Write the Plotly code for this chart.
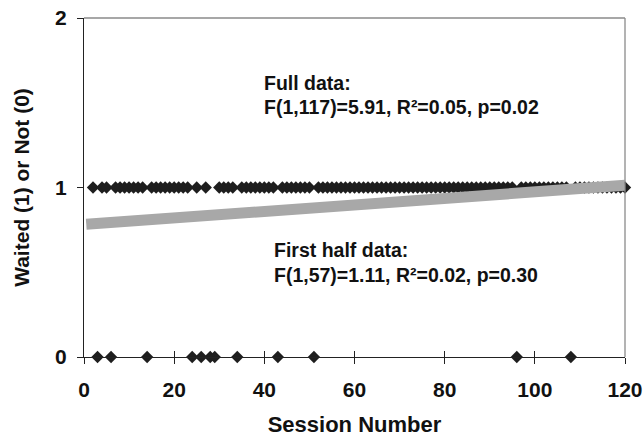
import numpy as np
import plotly.graph_objects as go

# Sessions where the participant did NOT wait (0)
zero_sessions = [3, 6, 14, 24, 26, 28, 29, 34, 43, 51, 96, 108]
all_sessions = list(range(2, 121))
waited = [0 if s in zero_sessions else 1 for s in all_sessions]

x_ticks = [0, 20, 40, 60, 80, 100, 120]
y_ticks = [0, 1, 2]

full_label = ["Full data:", "F(1,117)=5.91, R\u00b2=0.05, p=0.02"]
half_label = ["First half data:", "F(1,57)=1.11, R\u00b2=0.02, p=0.30"]

FONT = "Liberation Sans, Arial, sans-serif"

slope, intercept = np.polyfit(all_sessions, waited, 1)
fit_x = [0.5, 120]
fit_y = [intercept + slope * v for v in fit_x]

fig = go.Figure()
fig.add_trace(go.Scatter(
    x=all_sessions, y=waited, mode="markers",
    marker=dict(symbol="diamond", size=9.5, color="#1e1e1e", line=dict(width=0)),
    cliponaxis=False, showlegend=False))
fig.add_trace(go.Scatter(
    x=fit_x, y=fit_y, mode="lines",
    line=dict(color="#a8a8a8", width=11),
    cliponaxis=False, showlegend=False))
# invisible trace to activate the second x axis (for crossing tick marks)
fig.add_trace(go.Scatter(x=[0], y=[0], xaxis="x2", mode="markers",
                         marker=dict(opacity=0), showlegend=False, hoverinfo="skip"))

tickfont = dict(family=FONT, size=21, color="#111111", weight="bold")
fig.update_layout(
    width=643, height=442,
    margin=dict(l=84, r=18, t=18, b=85),
    paper_bgcolor="white", plot_bgcolor="white",
    xaxis=dict(range=[0, 120], tickvals=x_ticks, ticks="outside", ticklen=6,
               tickwidth=1, tickcolor="#222", showline=True, linecolor="#222",
               linewidth=1.3, showgrid=False, zeroline=False, mirror=False,
               automargin=False, tickfont=tickfont, ticklabelstandoff=8,
               title=dict(text="Session Number", standoff=16,
                          font=dict(family=FONT, size=22, color="#111", weight="bold"))),
    xaxis2=dict(range=[0, 120], overlaying="x", side="bottom", tickvals=x_ticks,
                ticks="inside", ticklen=6, tickwidth=1, tickcolor="#222",
                showticklabels=False, showline=False, showgrid=False, zeroline=False,
                automargin=False),
    yaxis=dict(range=[0, 2], tickvals=y_ticks, ticks="outside", ticklen=6,
               tickwidth=1, tickcolor="#222", showline=True, linecolor="#222",
               linewidth=1.3, showgrid=False, zeroline=False, automargin=False,
               tickfont=tickfont, ticklabelstandoff=6,
               title=dict(text="Waited (1) or Not (0)", standoff=19,
                          font=dict(family=FONT, size=21, color="#111", weight="bold"))),
    shapes=[
        dict(type="line", xref="paper", yref="paper", x0=0, x1=1, y0=1, y1=1,
             line=dict(color="#8a8a8a", width=1.3)),
        dict(type="line", xref="paper", yref="paper", x0=1, x1=1, y0=0, y1=1,
             line=dict(color="#8a8a8a", width=1.3)),
    ],
)

annfont = dict(family=FONT, size=19.5, color="#111111", weight="bold")
for i, txt in enumerate(full_label):
    fig.add_annotation(x=39.5, y=1.617 - i * 0.142, text=txt, showarrow=False,
                       xanchor="left", yanchor="middle", font=annfont)
for i, txt in enumerate(half_label):
    fig.add_annotation(x=41.6, y=0.631 - i * 0.147, text=txt, showarrow=False,
                       xanchor="left", yanchor="middle", font=annfont)

fig.write_html("out.html",
               config={"displayModeBar": False},
               post_script="document.body.style.margin='0';"
                           "document.body.style.overflow='hidden';")
